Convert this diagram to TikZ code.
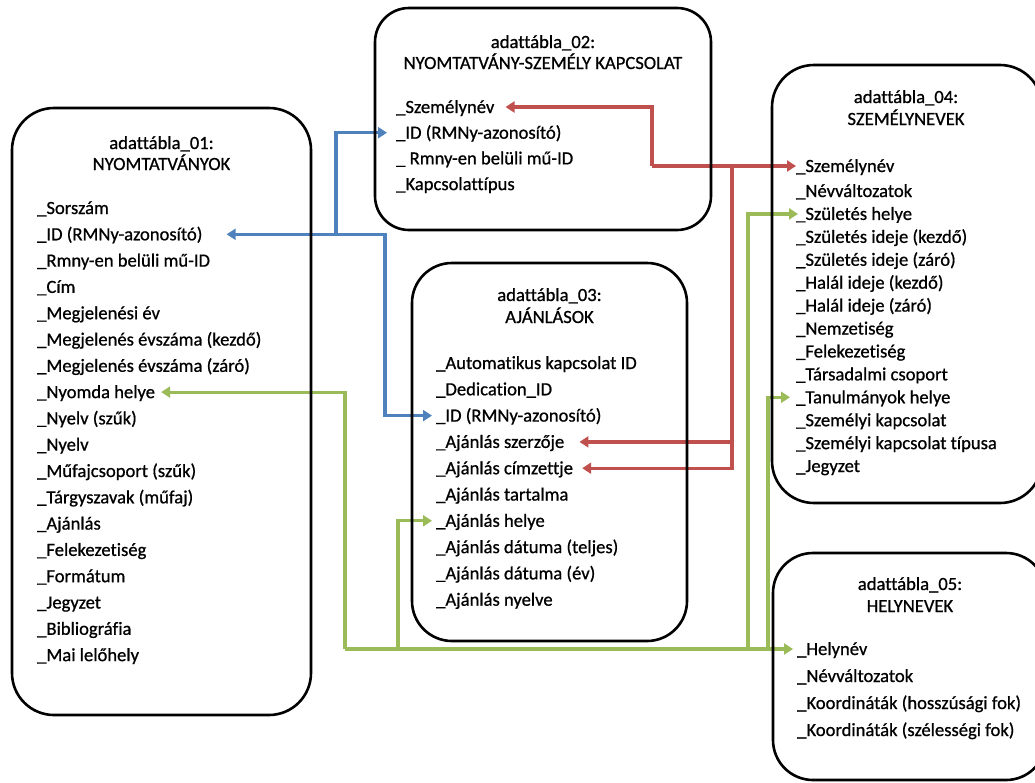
\documentclass[tikz,border=0pt]{standalone}
\usepackage{fontspec}
\setmainfont{Carlito}[Ligatures=NoCommon, FakeBold=0.8]
\usetikzlibrary{arrows.meta}
\definecolor{linkblue}{HTML}{4F81BD}
\definecolor{linkred}{HTML}{C0504D}
\definecolor{linkgreen}{HTML}{9BBB59}
\newcommand{\tabfont}{\fontsize{18.6pt}{22pt}\selectfont}
\begin{document}
\begin{tikzpicture}[x=1pt,y=-1pt,
  tablebox/.style={draw=black, line width=2.6pt, inner sep=0pt},
  heading/.style={anchor=base, inner sep=0pt, font=\tabfont},
  field/.style={anchor=west, inner sep=0pt, text height=12pt, text depth=0pt, font=\tabfont},
  wire/.style={line width=3.2pt, -{Triangle[length=9pt,width=11pt]}},
  bluewire/.style={wire, draw=linkblue},
  redwire/.style={wire, draw=linkred},
  greenwire/.style={wire, draw=linkgreen}]
\useasboundingbox (0,0) rectangle (1035,782);

% ---- table 01 ----
\node[heading] (h1a) at (161.5,149) {adattábla\_01:};
\node[heading] (h1b) at (161.5,170) {NYOMTATVÁNYOK};
\foreach \t [count=\i] in {{\_Sorszám},{\_ID (RMNy-azonosító)},{\_Rmny-en belüli mű-ID},{\_Cím},
  {\_Megjelenési év},{\_Megjelenés évszáma (kezdő)},{\_Megjelenés évszáma (záró)},{\_Nyomda helye},
  {\_Nyelv (szűk)},{\_Nyelv},{\_Műfajcsoport (szűk)},{\_Tárgyszavak (műfaj)},{\_Ajánlás},
  {\_Felekezetiség},{\_Formátum},{\_Jegyzet},{\_Bibliográfia},{\_Mai lelőhely}}
  \node[field] (t1-\i) at (37,{208+26.3*(\i-1)}) {\t};

% ---- table 02 ----
\node[heading] (h2a) at (543,48) {adattábla\_02:};
\node[heading] (h2b) at (543,69) {NYOMTATVÁNY-SZEMÉLY KAPCSOLAT};
\foreach \t [count=\i] in {{\_Személynév},{\_ID (RMNy-azonosító)},{\_ Rmny-en belüli mű-ID},{\_Kapcsolattípus}}
  \node[field] (t2-\i) at (396,{107+25.7*(\i-1)}) {\t};

% ---- table 03 ----
\node[heading] (h3a) at (549.5,301) {adattábla\_03:};
\node[heading] (h3b) at (549.5,323) {AJÁNLÁSOK};
\foreach \t [count=\i] in {{\_Automatikus kapcsolat ID},{\_Dedication\_ID},{\_ID (RMNy-azonosító)},
  {\_Ajánlás szerzője},{\_Ajánlás címzettje},{\_Ajánlás tartalma},{\_Ajánlás helye},
  {\_Ajánlás dátuma (teljes)},{\_Ajánlás dátuma (év)},{\_Ajánlás nyelve}}
  \node[field] (t3-\i) at (436,{363+26.3*(\i-1)}) {\t};

% ---- table 04 ----
\node[heading] (h4a) at (906,103) {adattábla\_04:};
\node[heading] (h4b) at (906,125) {SZEMÉLYNEVEK};
\foreach \t [count=\i] in {{\_Személynév},{\_Névváltozatok},{\_Születés helye},{\_Születés ideje (kezdő)},
  {\_Születés ideje (záró)},{\_Halál ideje (kezdő)},{\_Halál ideje (záró)},{\_Nemzetiség},
  {\_Felekezetiség},{\_Társadalmi csoport},{\_Tanulmányok helye},{\_Személyi kapcsolat},
  {\_Személyi kapcsolat típusa},{\_Jegyzet}}
  \node[field] (t4-\i) at (796,{\i==1 ? 166 : 191+22.92*(\i-2)}) {\t};

% ---- table 05 ----
\node[heading] (h5a) at (910,590) {adattábla\_05:};
\node[heading] (h5b) at (910,612) {HELYNEVEK};
\foreach \t [count=\i] in {{\_Helynév},{\_Névváltozatok},{\_Koordináták (hosszúsági fok)},{\_Koordináták (szélességi fok)}}
  \node[field] (t5-\i) at (797,{649+27*(\i-1)}) {\t};

% ---- RMNy identifier links ----
\coordinate (bA) at (336,234.3);
\coordinate (bB) at (385,234.3);
\draw[bluewire] (bA) |- ([xshift=24pt]t1-2.east);
\draw[bluewire] (bA) |- ([xshift=-9pt]t2-2.west);
\draw[bluewire] (bA) -- (bB) |- ([xshift=-4pt]t3-3.west);

% ---- person name links ----
\coordinate (rA) at (652,166);
\coordinate (rJ) at (732,166);
\draw[redwire] (rA) |- ([xshift=11pt]t2-1.east);
\draw[redwire] (rA) -- (t4-1.west);
\draw[redwire] (rJ) |- ([xshift=15pt]t3-4.east);
\draw[redwire] (rJ) |- ([xshift=9pt]t3-5.east);

% ---- place name links ----
\coordinate (gA) at (345,649);
\coordinate (gB) at (398,649);
\coordinate (gC) at (748,649);
\coordinate (gD) at (768,649);
\draw[greenwire] (gA) |- ([xshift=6pt]t1-8.east);
\draw[greenwire] (gA) -- ([xshift=-4pt]t5-1.west);
\draw[greenwire] (gB) |- ([xshift=-4pt]t3-7.west);
\draw[greenwire] (gC) |- ([xshift=2pt]t4-3.west);
\draw[greenwire] (gD) |- ([xshift=-6pt]t4-11.west);

% ---- table frames ----
\draw[tablebox, rounded corners=42pt] (12,108) rectangle (311,715);
\draw[tablebox, rounded corners=34pt] (375,8) rectangle (711,230);
\draw[tablebox, rounded corners=40pt] (412,263) rectangle (687,641);
\draw[tablebox, rounded corners=42pt] (772,65) rectangle (1042,503);
\draw[tablebox, rounded corners=40pt] (773,553) rectangle (1046,780);
\end{tikzpicture}
\end{document}
